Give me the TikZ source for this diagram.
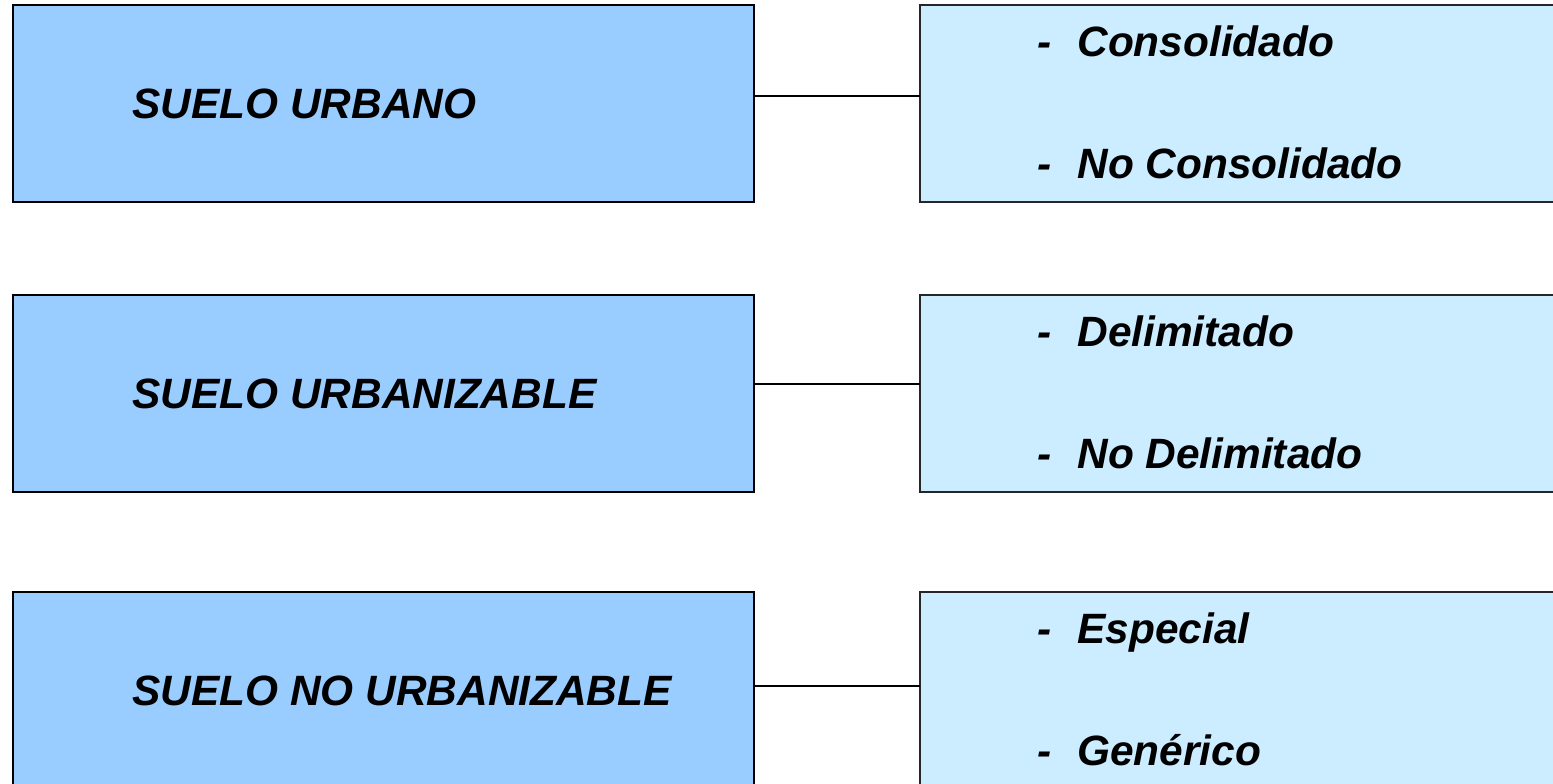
\documentclass[tikz,border=0pt]{standalone}
\usepackage{fontspec}
\setmainfont{Liberation Sans}
\definecolor{mainblue}{HTML}{99CCFF}
\definecolor{lightblue}{HTML}{CCECFF}
\begin{document}
\begin{tikzpicture}[x=0.5pt,y=-0.5pt,
  mainbox/.style={draw=black, line width=1.3pt, fill=mainblue, anchor=north west,
    minimum width=370.5pt, minimum height=98.5pt, inner sep=0pt, outer sep=0pt},
  subbox/.style={draw=black!85, line width=1.1pt, fill=lightblue, anchor=north west,
    minimum width=340pt, minimum height=98.5pt, inner sep=0pt, outer sep=0pt},
  lbl/.style={anchor=base west, inner sep=0pt, font=\fontsize{21.2}{25}\selectfont\bfseries\itshape},
  link/.style={draw=black, line width=1pt}]
\useasboundingbox (0,0) rectangle (1553,783);
\clip (0,0) rectangle (1553,783);
\fill[white] (0,0) rectangle (1553,783);
% boxes
\node[mainbox] (m1) at (13,5) {};
\node[subbox] (s1) at (920,5) {};
\node[mainbox] (m2) at (13,295) {};
\node[subbox] (s2) at (920,295) {};
\node[mainbox] (m3) at (13,592) {};
\node[subbox] (s3) at (920,592) {};
% connectors
\draw[link] ([yshift=3.8pt]m1.east) -- ([yshift=3.8pt]s1.west);
\draw[link] ([yshift=5pt]m2.east) -- ([yshift=5pt]s2.west);
\draw[link] ([yshift=2.4pt]m3.east) -- ([yshift=2.4pt]s3.west);
% main labels
\node[lbl] (t1) at (132,118) {SUELO URBANO};
\node[lbl] (t2) at (132,408) {SUELO URBANIZABLE};
\node[lbl] (t3) at (132,705) {SUELO NO URBANIZABLE};
% sub labels
\node[lbl] (d1a) at (1037,56) {-};
\node[lbl] (w1a) at (1077,56) {Consolidado};
\node[lbl] (d1b) at (1037,178) {-};
\node[lbl] (w1b) at (1077,178) {No Consolidado};
\node[lbl] (d2a) at (1037,346) {-};
\node[lbl] (w2a) at (1077,346) {Delimitado};
\node[lbl] (d2b) at (1037,468) {-};
\node[lbl] (w2b) at (1077,468) {No Delimitado};
\node[lbl] (d3a) at (1037,643) {-};
\node[lbl] (w3a) at (1077,643) {Especial};
\node[lbl] (d3b) at (1037,765) {-};
\node[lbl] (w3b) at (1077,765) {Genérico};
\end{tikzpicture}
\end{document}
